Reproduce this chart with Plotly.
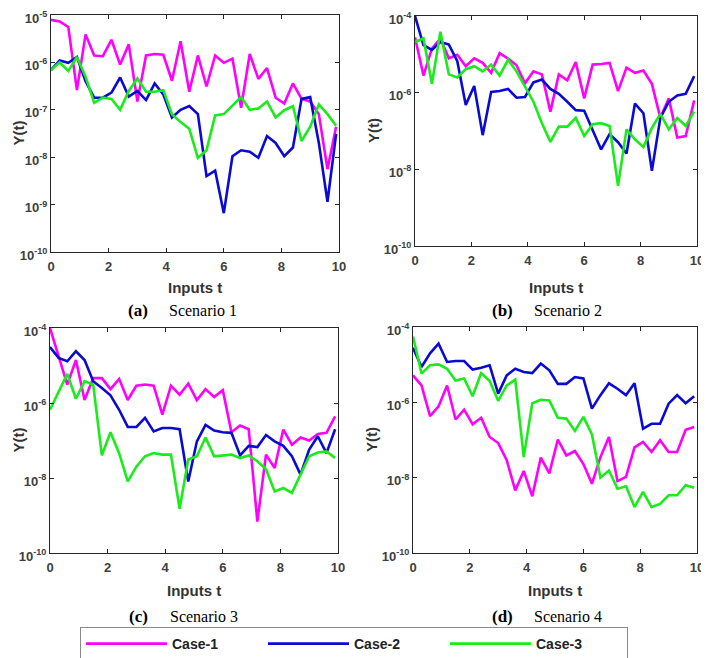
import plotly.graph_objects as go

t = [round(0.3 * i, 1) for i in range(34)]

# Scenario 1
s1_case1 = [7.9e-6, 7.3e-6, 5.6e-6, 2.6e-7, 3.9e-6, 1.4e-6, 1.35e-6, 3.0e-6, 9e-7, 2.4e-6,
            1.5e-7, 1.4e-6, 1.5e-6, 1.45e-6, 4.1e-7, 2.8e-6, 2.4e-7, 1.4e-6, 3.1e-7, 1.4e-6,
            9.8e-7, 1.2e-6, 1.1e-7, 1.5e-6, 4.5e-7, 7.6e-7, 1.8e-7, 1.35e-7, 3.6e-7, 1.7e-7,
            1.5e-7, 8.1e-8, 5.6e-9, 4.4e-8]
s1_case2 = [6.9e-7, 1.1e-6, 9.8e-7, 1.3e-6, 4.0e-7, 1.8e-7, 1.8e-7, 2.3e-7, 4.8e-7, 1.9e-7,
            2.5e-7, 1.6e-7, 3.6e-7, 2.1e-7, 6.9e-8, 1.0e-7, 1.2e-7, 8.1e-8, 4.0e-9, 5.2e-9,
            6.6e-10, 1.05e-8, 1.4e-8, 1.3e-8, 9.7e-9, 2.8e-8, 2.0e-8, 1.05e-8, 1.6e-8, 1.7e-7,
            1.85e-7, 2.0e-8, 1.15e-9, 3.1e-8]
s1_case3 = [6.9e-7, 1.0e-6, 6.6e-7, 1.3e-6, 5.0e-7, 1.4e-7, 1.8e-7, 1.7e-7, 1.0e-7, 2.5e-7,
            4.6e-7, 2.4e-7, 2.4e-7, 2.6e-7, 8.1e-8, 5.5e-8, 4.0e-8, 9.7e-9, 1.4e-8, 7.6e-8,
            8.1e-8, 1.2e-7, 1.85e-7, 1.0e-7, 1.07e-7, 1.5e-7, 6.9e-8, 9.8e-8, 1.2e-7, 2.2e-8,
            4.4e-8, 1.3e-7, 8.1e-8, 4.6e-8]

# Scenario 2
s2_case1 = [2.8e-5, 2.8e-6, 1.4e-5, 2.6e-5, 7.9e-6, 9.7e-6, 4.9e-6, 7.9e-6, 6.0e-6, 3.3e-6,
            1.07e-5, 7.7e-6, 5.2e-6, 1.75e-6, 3.6e-6, 3.0e-6, 3.2e-7, 3.0e-6, 2.1e-6, 6.3e-6,
            7.1e-7, 5.4e-6, 5.6e-6, 6.0e-6, 1.1e-6, 4.5e-6, 3.3e-6, 3.8e-6, 1.7e-6, 2.2e-7,
            7.1e-7, 6.8e-8, 7.4e-8, 6.3e-7]
s2_case2 = [1.0e-4, 1.75e-5, 1.3e-5, 2.1e-5, 1.8e-5, 6.6e-6, 4.8e-7, 1.5e-6, 7.8e-8, 1.05e-6,
            1.1e-6, 1.25e-6, 7.4e-7, 7.7e-7, 1.85e-6, 2.2e-6, 1.25e-6, 9.3e-7, 5.8e-7, 3.5e-7,
            3.4e-7, 1.1e-7, 3.3e-8, 8.3e-8, 5.1e-8, 2.6e-8, 5.2e-7, 2.9e-7, 9.1e-9, 2.2e-7,
            5.8e-7, 8.5e-7, 9.3e-7, 2.7e-6]
s2_case3 = [2.1e-5, 2.6e-5, 1.7e-6, 3.9e-5, 3.0e-6, 2.5e-6, 4.1e-6, 4.9e-6, 3.6e-6, 5.4e-6,
            2.8e-6, 7.2e-6, 3.6e-6, 1.4e-6, 5.8e-7, 1.6e-7, 5.2e-8, 1.3e-7, 1.3e-7, 2.2e-7,
            7.4e-8, 1.5e-7, 1.6e-7, 1.35e-7, 3.7e-9, 1.1e-7, 6.1e-8, 3.8e-8, 1.2e-7, 2.8e-7,
            1.1e-7, 2.2e-7, 1.35e-7, 3.2e-7]

# Scenario 3
s3_case1 = [1.0e-4, 1.75e-5, 3.1e-6, 1.4e-5, 1.2e-6, 4.6e-6, 4.6e-6, 2.35e-6, 4.4e-6, 1.2e-6,
            2.9e-6, 3.1e-6, 2.9e-6, 4.9e-7, 2.9e-6, 1.66e-6, 3.3e-6, 1.2e-6, 2.35e-6, 1.45e-6,
            2.2e-6, 1.66e-7, 2.5e-7, 2.0e-7, 6.9e-10, 4.2e-8, 1.85e-8, 1.95e-7, 7.7e-8, 1.2e-7,
            1.0e-7, 1.5e-7, 1.6e-7, 4.4e-7]
s3_case2 = [3.1e-5, 1.6e-5, 1.3e-5, 2.4e-5, 1.4e-5, 3.8e-6, 2.5e-6, 1.6e-6, 6.6e-7, 2.3e-7,
            2.3e-7, 4.0e-7, 1.75e-7, 2.15e-7, 2.15e-7, 2.0e-7, 8.1e-9, 9.5e-8, 2.6e-7, 1.85e-7,
            1.66e-7, 1.6e-7, 4.0e-8, 7.2e-8, 6.7e-8, 1.4e-7, 9.5e-8, 7.2e-8, 3.8e-8, 1.23e-8,
            5.7e-8, 1.3e-7, 4.6e-8, 2.0e-7]
s3_case3 = [6.6e-7, 2.0e-6, 6.0e-6, 1.3e-6, 3.8e-6, 3.1e-6, 4.0e-8, 1.66e-7, 4.6e-8, 8.1e-9,
            2.0e-8, 3.8e-8, 4.6e-8, 4.2e-8, 4.2e-8, 1.5e-9, 3.1e-8, 3.8e-8, 1.2e-7, 3.8e-8,
            4.0e-8, 4.2e-8, 3.4e-8, 4.0e-8, 2.8e-8, 1.7e-8, 4.4e-9, 5.4e-9, 4.0e-9, 1.23e-8,
            3.8e-8, 4.8e-8, 5.1e-8, 3.4e-8]

# Scenario 4
s4_case1 = [5.2e-6, 2.8e-6, 4.3e-7, 7.8e-7, 2.8e-6, 3.5e-7, 6.4e-7, 2.6e-7, 3.9e-7, 1.2e-7,
            8.3e-8, 2.9e-8, 4.6e-9, 1.5e-8, 3.2e-9, 3.4e-8, 1.3e-8, 1.02e-7, 3.9e-8, 5.1e-8,
            2.3e-8, 6.9e-9, 3.5e-8, 1.2e-7, 8.1e-9, 1.05e-8, 6.4e-8, 8.9e-8, 4.8e-8, 9.8e-8,
            4.8e-8, 4.8e-8, 1.86e-7, 2.2e-7]
s4_case2 = [2.8e-5, 8.7e-6, 2.0e-5, 3.6e-5, 1.18e-5, 1.25e-5, 1.25e-5, 7.4e-6, 8.3e-6, 9.6e-6,
            1.7e-6, 5.2e-6, 7.8e-6, 6.4e-6, 6.0e-6, 1.07e-5, 7.1e-6, 3.1e-6, 3.1e-6, 4.7e-6,
            4.3e-6, 6.8e-7, 1.55e-6, 3.2e-6, 2.3e-6, 1.55e-6, 3.2e-6, 2.0e-7, 2.7e-7, 2.7e-7,
            9.2e-7, 1.55e-6, 9.5e-7, 1.45e-6]
s4_case3 = [5.6e-5, 5.8e-6, 9.6e-6, 1.02e-5, 7.8e-6, 3.8e-6, 4.3e-6, 1.45e-6, 6.0e-6, 3.7e-6,
            1.1e-6, 2.8e-6, 4.0e-6, 3.5e-8, 9.5e-7, 1.17e-6, 1.12e-6, 3.9e-7, 3.7e-7, 1.74e-7,
            4.1e-7, 1.4e-7, 1.0e-8, 1.55e-8, 5.1e-9, 5.9e-9, 1.66e-9, 4.2e-9, 1.66e-9, 2.0e-9,
            3.4e-9, 3.4e-9, 6.3e-9, 5.4e-9]

case_names = ["Case-1", "Case-2", "Case-3"]
case_colors = ["#ff00ff", "#0a0ad2", "#1aeb1a"]

x_ticks = [0, 2, 4, 6, 8, 10]
x_ticklabels = ["0", "2", "4", "6", "8", "10"]
yticks_a = [1e-10, 1e-9, 1e-8, 1e-7, 1e-6, 1e-5]
yticklabels_a = ["10<sup>-10</sup>", "10<sup>-9</sup>", "10<sup>-8</sup>", "10<sup>-7</sup>",
                 "10<sup>-6</sup>", "10<sup>-5</sup>"]
yticks_b = [1e-10, 1e-8, 1e-6, 1e-4]
yticklabels_b = ["10<sup>-10</sup>", "10<sup>-8</sup>", "10<sup>-6</sup>", "10<sup>-4</sup>"]

panel_letters = ["(a)", "(b)", "(c)", "(d)"]
panel_captions = ["Scenario 1", "Scenario 2", "Scenario 3", "Scenario 4"]

W, H = 709, 658
OFF = 8        # page body margin around the figure


def px(v):
    return (v - OFF) / W


def py(v):
    return 1 - (v - OFF) / H


panels = [
    dict(data=[s1_case1, s1_case2, s1_case3], x=(51, 339), y=(15, 252), yr=(-10, -5),
         yt=yticks_a, ytl=yticklabels_a, ylab_x=18),
    dict(data=[s2_case1, s2_case2, s2_case3], x=(415, 697), y=(16, 246), yr=(-10, -4),
         yt=yticks_b, ytl=yticklabels_b, ylab_x=373),
    dict(data=[s3_case1, s3_case2, s3_case3], x=(50, 338), y=(328, 553), yr=(-10, -4),
         yt=yticks_b, ytl=yticklabels_b, ylab_x=18),
    dict(data=[s4_case1, s4_case2, s4_case3], x=(413, 697), y=(327, 553), yr=(-10, -4),
         yt=yticks_b, ytl=yticklabels_b, ylab_x=371),
]
caption_pos = [(138, 203, 310), (502, 568, 310), (138, 204, 616), (502, 568, 616)]
xlabel_y = [288, 288, 590, 590]

fig = go.Figure()
axis_color = "#262626"
tick_font = dict(family="Liberation Sans", size=13, color="#404040", weight="bold")
label_font = dict(family="Liberation Sans", size=15, color="#333333", weight="bold")
annotations = []

for i, p in enumerate(panels):
    n = "" if i == 0 else str(i + 1)
    for j in range(3):
        fig.add_trace(go.Scatter(
            x=t, y=p["data"][j], mode="lines", name=case_names[j],
            line=dict(color=case_colors[j], width=2.6),
            xaxis="x" + n, yaxis="y" + n, showlegend=(i == 0),
        ))
    xd = [px(p["x"][0]), px(p["x"][1])]
    yd = [py(p["y"][1]), py(p["y"][0])]
    common = dict(ticks="inside", ticklen=4, tickcolor=axis_color, showline=True,
                  linecolor=axis_color, linewidth=1, mirror="ticks", showgrid=False,
                  zeroline=False, tickfont=tick_font, tickmode="array", automargin=False,
                  ticklabeloverflow="allow")
    fig.layout["xaxis" + n] = dict(domain=xd, range=[0, 10], anchor="y" + n,
                                   tickvals=x_ticks, ticktext=x_ticklabels,
                                   ticklabelstandoff=2, **common)
    fig.layout["yaxis" + n] = dict(domain=yd, type="log", range=list(p["yr"]), anchor="x" + n,
                                   tickvals=p["yt"], ticktext=p["ytl"],
                                   ticklabelshift=3, **common)
    cx = (p["x"][0] + p["x"][1]) / 2
    annotations.append(dict(
        text="Inputs t", x=px(cx), y=py(xlabel_y[i]), xref="paper", yref="paper",
        showarrow=False, xanchor="center", yanchor="middle", font=label_font))
    cy = (p["y"][0] + p["y"][1]) / 2
    annotations.append(dict(
        text="Y(t)", x=px(p["ylab_x"]), y=py(cy), xref="paper", yref="paper",
        showarrow=False, xanchor="center", yanchor="middle", textangle=-90, font=label_font))
    lx, sx, cyy = caption_pos[i]
    annotations.append(dict(
        text="<b>" + panel_letters[i] + "</b>", x=px(lx), y=py(cyy), xref="paper", yref="paper",
        showarrow=False, xanchor="center", yanchor="middle",
        font=dict(family="Liberation Serif", size=17, color="#000000")))
    annotations.append(dict(
        text=panel_captions[i], x=px(sx), y=py(cyy), xref="paper", yref="paper",
        showarrow=False, xanchor="center", yanchor="middle",
        font=dict(family="Liberation Serif", size=16, color="#000000")))

fig.update_layout(
    width=W, height=H, margin=dict(l=0, r=0, t=0, b=0, autoexpand=False),
    paper_bgcolor="white", plot_bgcolor="white",
    annotations=annotations,
    legend=dict(
        orientation="h", x=px(80), y=py(627), xanchor="left", yanchor="top",
        bordercolor="#8a8a8a", borderwidth=1, itemwidth=81,
        entrywidth=86, entrywidthmode="pixels",
        font=dict(family="Liberation Sans", size=14, color="#222222", weight="bold"),
    ),
)

fig.write_html("out.html")
